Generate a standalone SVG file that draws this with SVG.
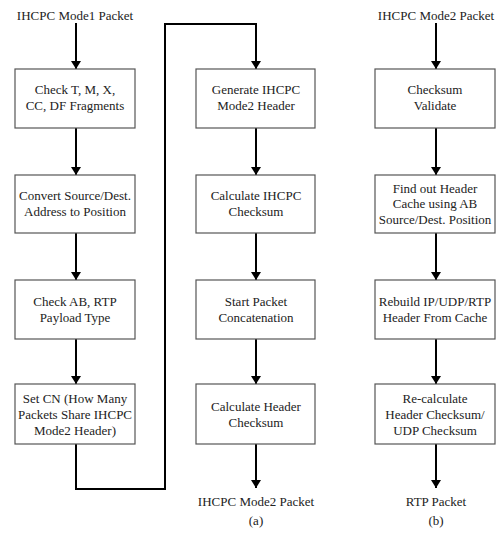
<svg xmlns="http://www.w3.org/2000/svg" width="497" height="533" viewBox="0 0 497 533">
  <style>
    .box { fill: #ffffff; stroke: #555; stroke-width: 1.2; }
    .lbl { font-family: 'Liberation Serif', 'DejaVu Serif', serif; font-size: 13px; fill: #222; text-anchor: middle; }
    .wire { fill: none; stroke: #000; stroke-width: 2; }
  </style>
  <defs>
    <marker id="ah" markerWidth="8" markerHeight="10" refX="8" refY="5" orient="auto" markerUnits="userSpaceOnUse">
      <path d="M0,0 L8,5 L0,10 Z" fill="#000"/>
    </marker>
  </defs>
  <rect width="497" height="533" fill="#ffffff"/>

  <!-- connectors -->
  <g id="connectors">
    <!-- column (a), left -->
    <line class="wire" x1="76" y1="23" x2="76" y2="69" marker-end="url(#ah)"/>
    <line class="wire" x1="76" y1="128" x2="76" y2="175" marker-end="url(#ah)"/>
    <line class="wire" x1="76" y1="233" x2="76" y2="280" marker-end="url(#ah)"/>
    <line class="wire" x1="76" y1="339" x2="76" y2="384" marker-end="url(#ah)"/>
    <polyline class="wire" points="76,444 76,489 165,489 165,24 256,24 256,69" marker-end="url(#ah)"/>
    <!-- column (a), right -->
    <line class="wire" x1="256" y1="128" x2="256" y2="175" marker-end="url(#ah)"/>
    <line class="wire" x1="256" y1="233" x2="256" y2="280" marker-end="url(#ah)"/>
    <line class="wire" x1="256" y1="339" x2="256" y2="384" marker-end="url(#ah)"/>
    <line class="wire" x1="256" y1="444" x2="256" y2="488" marker-end="url(#ah)"/>
    <!-- column (b) -->
    <line class="wire" x1="436" y1="23" x2="436" y2="69" marker-end="url(#ah)"/>
    <line class="wire" x1="436" y1="128" x2="436" y2="175" marker-end="url(#ah)"/>
    <line class="wire" x1="436" y1="233" x2="436" y2="280" marker-end="url(#ah)"/>
    <line class="wire" x1="436" y1="339" x2="436" y2="384" marker-end="url(#ah)"/>
    <line class="wire" x1="436" y1="444" x2="436" y2="488" marker-end="url(#ah)"/>
  </g>

  <!-- terminal labels -->
  <g id="in-a"><text class="lbl" x="75" y="20">IHCPC Mode1 Packet</text></g>
  <g id="out-a"><text class="lbl" x="256" y="506">IHCPC Mode2 Packet</text></g>
  <g id="cap-a"><text class="lbl" x="256" y="525">(a)</text></g>
  <g id="in-b"><text class="lbl" x="436" y="20">IHCPC Mode2 Packet</text></g>
  <g id="out-b"><text class="lbl" x="436" y="506">RTP Packet</text></g>
  <g id="cap-b"><text class="lbl" x="436" y="525">(b)</text></g>

  <!-- column (a), left -->
  <g id="check-fragments">
    <rect class="box" x="15" y="69" width="120" height="59"/>
    <text class="lbl" x="75" y="94">Check T, M, X,</text>
    <text class="lbl" x="75" y="110">CC, DF Fragments</text>
  </g>
  <g id="convert-address">
    <rect class="box" x="15" y="175" width="120" height="58"/>
    <text class="lbl" x="75" y="200">Convert Source/Dest.</text>
    <text class="lbl" x="75" y="216">Address to Position</text>
  </g>
  <g id="check-payload">
    <rect class="box" x="15" y="280" width="120" height="59"/>
    <text class="lbl" x="75" y="306">Check AB, RTP</text>
    <text class="lbl" x="75" y="322">Payload Type</text>
  </g>
  <g id="set-cn">
    <rect class="box" x="15" y="384" width="120" height="60"/>
    <text class="lbl" x="75" y="403">Set CN (How Many</text>
    <text class="lbl" x="75" y="419">Packets Share IHCPC</text>
    <text class="lbl" x="75" y="435">Mode2 Header)</text>
  </g>

  <!-- column (a), right -->
  <g id="generate-header">
    <rect class="box" x="196" y="69" width="119" height="59"/>
    <text class="lbl" x="256" y="94">Generate IHCPC</text>
    <text class="lbl" x="256" y="110">Mode2 Header</text>
  </g>
  <g id="calc-ihcpc-checksum">
    <rect class="box" x="196" y="175" width="119" height="58"/>
    <text class="lbl" x="256" y="200">Calculate IHCPC</text>
    <text class="lbl" x="256" y="216">Checksum</text>
  </g>
  <g id="concatenation">
    <rect class="box" x="196" y="280" width="119" height="59"/>
    <text class="lbl" x="256" y="306">Start Packet</text>
    <text class="lbl" x="256" y="322">Concatenation</text>
  </g>
  <g id="calc-header-checksum">
    <rect class="box" x="196" y="384" width="119" height="60"/>
    <text class="lbl" x="256" y="411">Calculate Header</text>
    <text class="lbl" x="256" y="427">Checksum</text>
  </g>

  <!-- column (b) -->
  <g id="checksum-validate">
    <rect class="box" x="375" y="69" width="120" height="59"/>
    <text class="lbl" x="435" y="94">Checksum</text>
    <text class="lbl" x="435" y="110">Validate</text>
  </g>
  <g id="find-cache">
    <rect class="box" x="375" y="175" width="120" height="58"/>
    <text class="lbl" x="435" y="193">Find out Header</text>
    <text class="lbl" x="435" y="208">Cache using AB</text>
    <text class="lbl" x="435" y="224">Source/Dest. Position</text>
  </g>
  <g id="rebuild-header">
    <rect class="box" x="375" y="280" width="120" height="59"/>
    <text class="lbl" x="435" y="306">Rebuild IP/UDP/RTP</text>
    <text class="lbl" x="435" y="322">Header From Cache</text>
  </g>
  <g id="recalc-checksum">
    <rect class="box" x="375" y="384" width="120" height="60"/>
    <text class="lbl" x="435" y="403">Re-calculate</text>
    <text class="lbl" x="435" y="419">Header Checksum/</text>
    <text class="lbl" x="435" y="435">UDP Checksum</text>
  </g>
</svg>
